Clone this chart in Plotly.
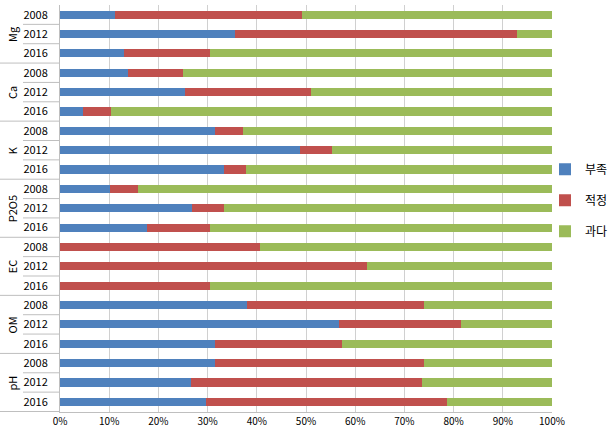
import plotly.graph_objects as go

groups = ["Mg", "Ca", "K", "P2O5", "EC", "OM", "pH"]
years = ["2008", "2012", "2016"]

# percentages per (group, year), in order of groups x years
deficient = [11.2, 35.5, 13.0,
             13.9, 25.5, 4.6,
             31.5, 48.7, 33.3,
             10.2, 26.8, 17.6,
             0.0, 0.0, 0.0,
             38.1, 56.7, 31.5,
             31.5, 26.7, 29.6]
optimal = [37.9, 57.4, 17.5,
           11.1, 25.5, 5.7,
           5.6, 6.6, 4.6,
           5.6, 6.5, 12.9,
           40.7, 62.4, 30.5,
           35.9, 24.9, 25.9,
           42.5, 46.9, 49.1]
excess = [50.9, 7.1, 69.5,
          75.0, 49.0, 89.7,
          62.9, 44.7, 62.1,
          84.2, 66.7, 69.5,
          59.3, 37.6, 69.5,
          26.0, 18.4, 42.6,
          26.0, 26.4, 21.3]

series_names = ["부족", "적정", "과다"]
colors = ["#4F81BD", "#C0504D", "#9BBB59"]

cats = [f"{g} {y}" for g in groups for y in years]
ticktext = [y for g in groups for y in years]

W, H = 610, 436
ML, MR = 60, 0
PW = W - ML - MR
plot_right_px = 552


def px_to_paper(px):
    return (px - ML) / PW


fig = go.Figure()
for name, vals, col in zip(series_names, [deficient, optimal, excess], colors):
    fig.add_trace(go.Bar(
        y=cats, x=vals, name=name, orientation="h",
        marker=dict(color=col, line=dict(width=0)),
        legendgroup=name,
    ))

annotations = []
shapes = []
for gi, g in enumerate(groups):
    annotations.append(dict(
        x=px_to_paper(12), y=cats[gi * 3 + 1], xref="paper", yref="y",
        text=g, textangle=-90, showarrow=False,
        font=dict(size=11, color="#000000", family="Noto Sans CJK KR"),
        xanchor="center", yanchor="middle",
    ))
n = len(cats)
for i in range(n):
    b = i + 0.5
    x0 = px_to_paper(0) if (i + 1) % 3 == 0 else px_to_paper(23)
    shapes.append(dict(type="line", xref="paper", yref="y", x0=x0, x1=0,
                       y0=b, y1=b, line=dict(color="#BFBFBF", width=1)))

fig.update_layout(
    width=W, height=H,
    margin=dict(l=ML, r=MR, t=5, b=24, autoexpand=False),
    barmode="stack", bargap=0.58,
    plot_bgcolor="white", paper_bgcolor="white",
    font=dict(family="Noto Sans CJK KR", size=11, color="#000000"),
    annotations=annotations, shapes=shapes,
    legend=dict(x=px_to_paper(545), xanchor="left", y=0.52, yanchor="middle",
                traceorder="grouped", tracegroupgap=12,
                font=dict(size=12, family="Noto Sans CJK KR"),
                itemwidth=30, bgcolor="rgba(0,0,0,0)"),
    xaxis=dict(domain=[0, px_to_paper(plot_right_px)],
               range=[0, 100], tickvals=[0, 10, 20, 30, 40, 50, 60, 70, 80, 90, 100],
               ticktext=[f"{v}%" for v in range(0, 101, 10)],
               showgrid=True, gridcolor="#D0D0D0", gridwidth=1,
               showline=True, linecolor="#BFBFBF", linewidth=1,
               ticks="", zeroline=False,
               tickfont=dict(size=10, family="Noto Sans CJK KR")),
    yaxis=dict(type="category", categoryorder="array", categoryarray=cats,
               autorange="reversed", tickmode="array", tickvals=cats,
               ticktext=ticktext, showgrid=False, showline=True,
               linecolor="#BFBFBF", linewidth=1, ticks="",
               ticklabelstandoff=9,
               tickfont=dict(size=11, family="Noto Sans CJK KR")),
)

fig.write_html("out.html")
